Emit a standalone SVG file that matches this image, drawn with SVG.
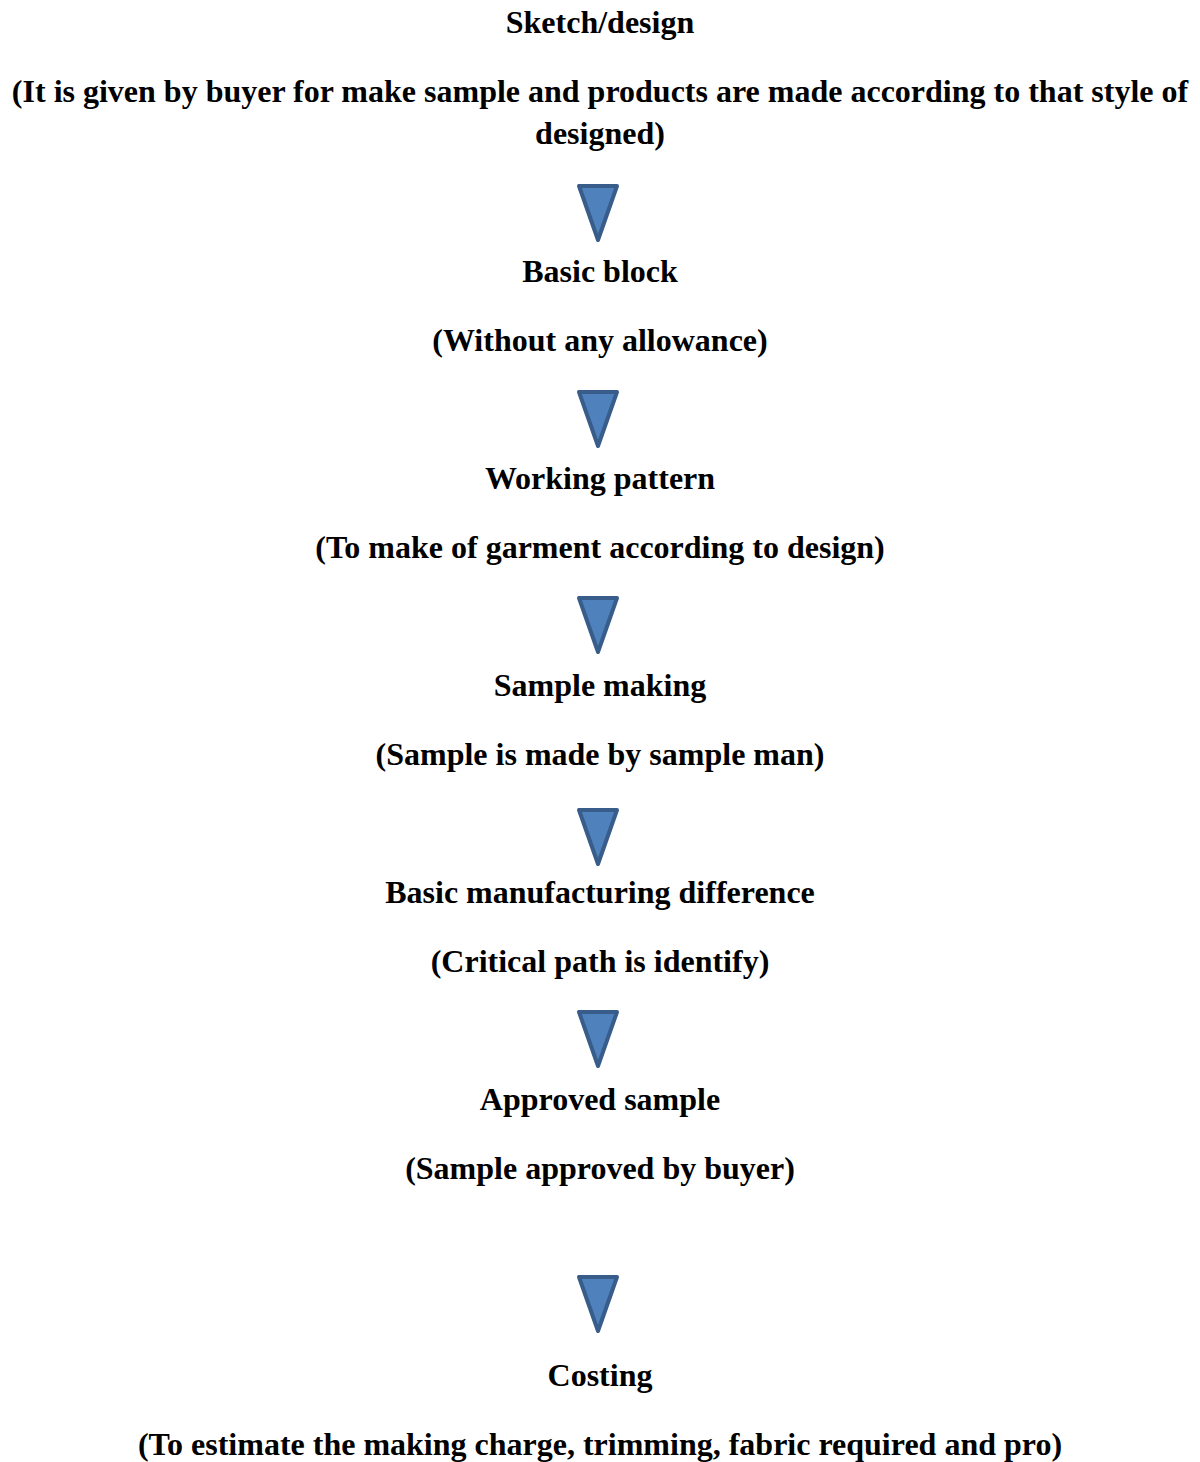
<svg xmlns="http://www.w3.org/2000/svg" width="1200" height="1462" viewBox="0 0 1200 1462">
<style>
text{font-family:"Liberation Serif","Times New Roman",serif;font-weight:bold;font-size:32px;fill:#000;text-anchor:middle}
.tri{fill:#4F81BD;stroke:#385D8A;stroke-width:4;stroke-linejoin:round}
</style>
<rect width="1200" height="1462" fill="#fff"/>
<defs><path id="tri" class="tri" d="M-19,0 L19,0 L0,54 Z"/></defs>
<g id="n1"><text x="600" y="33">Sketch/design</text><text x="600" y="102">(It is given by buyer for make sample and products are made according to that style of</text><text x="600" y="144">designed)</text></g>
<g id="n2"><text x="600" y="282">Basic block</text><text x="600" y="351">(Without any allowance)</text></g>
<g id="n3"><text x="600" y="489">Working pattern</text><text x="600" y="558">(To make of garment according to design)</text></g>
<g id="n4"><text x="600" y="696">Sample making</text><text x="600" y="765">(Sample is made by sample man)</text></g>
<g id="n5"><text x="600" y="903">Basic manufacturing difference</text><text x="600" y="972">(Critical path is identify)</text></g>
<g id="n6"><text x="600" y="1110">Approved sample</text><text x="600" y="1179">(Sample approved by buyer)</text></g>
<g id="n7"><text x="600" y="1386">Costing</text><text x="600" y="1455">(To estimate the making charge, trimming, fabric required and pro)</text></g>
<g id="connectors">
<use href="#tri" x="598" y="186"/>
<use href="#tri" x="598" y="392"/>
<use href="#tri" x="598" y="598"/>
<use href="#tri" x="598" y="810"/>
<use href="#tri" x="598" y="1012"/>
<use href="#tri" x="598" y="1277"/>
</g>
</svg>
